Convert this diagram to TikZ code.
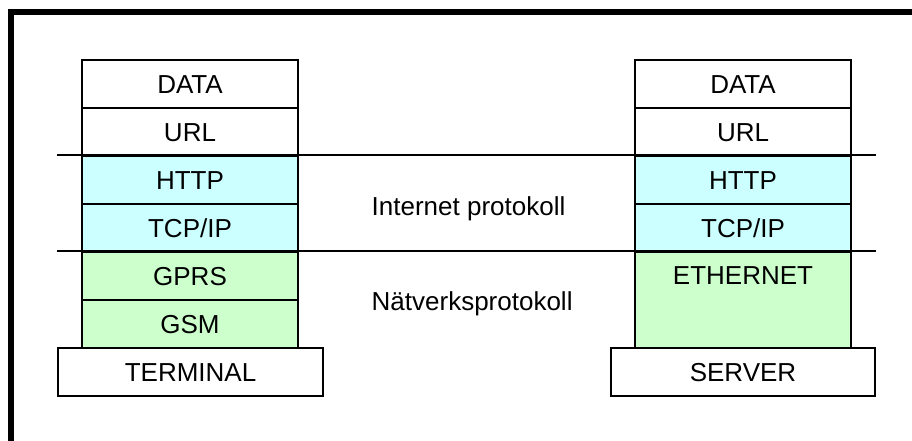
\documentclass[tikz,border=0pt]{standalone}
\usepackage{fontspec}
\setmainfont{Liberation Sans}
\usepackage{tikz}
\usepackage{xcolor}

\definecolor{inetcyan}{HTML}{CCFFFF}
\definecolor{netgreen}{HTML}{CCFFCC}

\tikzset{
  cell/.style={draw, line width=1.5pt, minimum width=162pt, minimum height=36pt,
    inner sep=0pt, text height=14pt, text depth=0pt},
  base/.style={cell, minimum width=198.5pt},
  sepline/.style={line width=2pt}
}

\begin{document}
\begin{tikzpicture}[x=0.75pt, y=-0.75pt, font=\fontsize{19.5}{23}\selectfont]
\useasboundingbox (0,0) rectangle (912,440);
\draw[line width=4.2pt] (11,12) rectangle (940,470);

% terminal side
\node[cell, fill=white] (data1) at (190,84) {DATA};
\node[cell, fill=white] (url1) at (190,132) {URL};
\node[cell, fill=inetcyan] (http1) at (190,180) {HTTP};
\node[cell, fill=inetcyan] (tcp1) at (190,228) {TCP/IP};
\node[cell, fill=netgreen] (gprs) at (190,276) {GPRS};
\node[cell, fill=netgreen] (gsm) at (190,324) {GSM};
\node[base, fill=white] (term) at (190.5,372) {TERMINAL};

% server side
\node[cell, fill=white] (data2) at (743,84) {DATA};
\node[cell, fill=white] (url2) at (743,132) {URL};
\node[cell, fill=inetcyan] (http2) at (743,180) {HTTP};
\node[cell, fill=inetcyan] (tcp2) at (743,228) {TCP/IP};
\node[cell, fill=netgreen, minimum height=72pt,
  label={[anchor=center, yshift=-18pt, text height=14pt, text depth=0pt]north:ETHERNET}] (eth) at (743,300) {};
\node[base, fill=white] (serv) at (743,372) {SERVER};

% layer borders
\draw[sepline] (term.west |- http1.north) -- (serv.east |- http2.north);
\draw[sepline] (term.west |- gprs.north) -- (serv.east |- eth.north);

\node[anchor=base west] (inet) at (367,215) {Internet protokoll};
\node[anchor=base west] (netw) at (367,310) {Nätverksprotokoll};
\end{tikzpicture}
\end{document}
